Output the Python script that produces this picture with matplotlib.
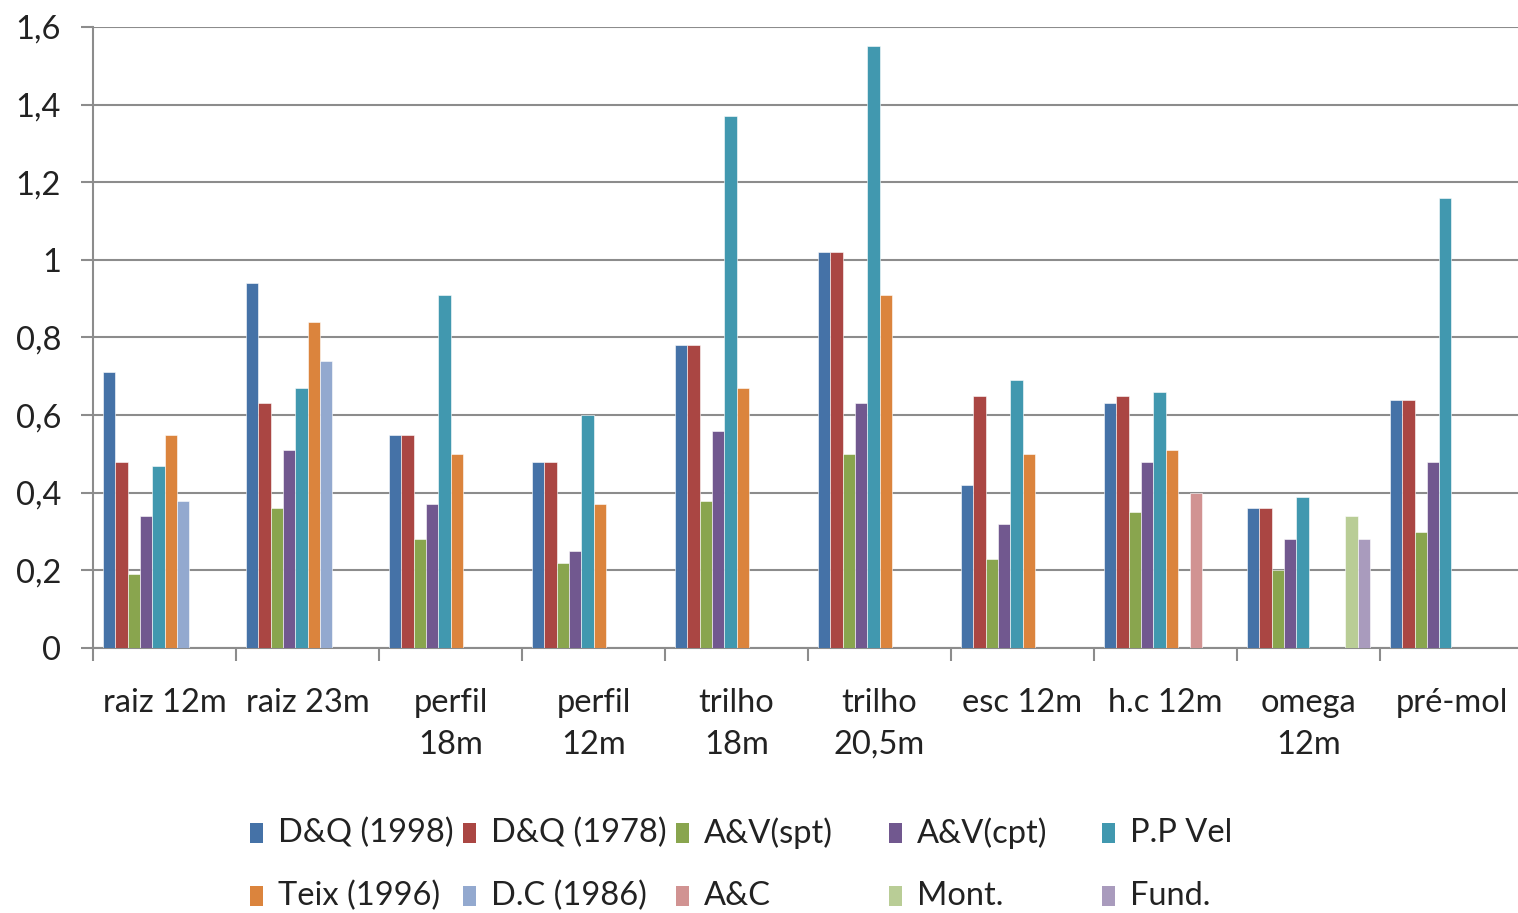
import matplotlib
matplotlib.use('Agg')
import matplotlib.pyplot as plt
from matplotlib.patches import Rectangle
import numpy as np

plt.rcParams['font.family'] = ['Lato', 'DejaVu Sans']

# categorias (eixo x)
categorias = ["raiz 12m", "raiz 23m", "perfil\n18m", "perfil\n12m", "trilho\n18m",
              "trilho\n20,5m", "esc 12m", "h.c 12m", "omega\n12m", "pré-mol"]

series = ["D&Q (1998)", "D&Q (1978)", "A&V(spt)", "A&V(cpt)", "P.P Vel",
          "Teix (1996)", "D.C (1986)", "A&C", "Mont.", "Fund."]

nan = np.nan
dq_1998 = [0.71, 0.94, 0.55, 0.48, 0.78, 1.02, 0.42, 0.63, 0.36, 0.64]
dq_1978 = [0.48, 0.63, 0.55, 0.48, 0.78, 1.02, 0.65, 0.65, 0.36, 0.64]
av_spt = [0.19, 0.36, 0.28, 0.22, 0.38, 0.50, 0.23, 0.35, 0.20, 0.30]
av_cpt = [0.34, 0.51, 0.37, 0.25, 0.56, 0.63, 0.32, 0.48, 0.28, 0.48]
pp_vel = [0.47, 0.67, 0.91, 0.60, 1.37, 1.55, 0.69, 0.66, 0.39, 1.16]
teix_1996 = [0.55, 0.84, 0.50, 0.37, 0.67, 0.91, 0.50, 0.51, nan, nan]
dc_1986 = [0.38, 0.74, nan, nan, nan, nan, nan, nan, nan, nan]
a_c = [nan, nan, nan, nan, nan, nan, nan, 0.40, nan, nan]
mont = [nan, nan, nan, nan, nan, nan, nan, nan, 0.34, nan]
fund = [nan, nan, nan, nan, nan, nan, nan, nan, 0.28, nan]

valores = [dq_1998, dq_1978, av_spt, av_cpt, pp_vel, teix_1996, dc_1986, a_c, mont, fund]

cores = ['#4572A7', '#AA4643', '#89A54E', '#71588F', '#4198AF',
         '#DB843D', '#93A9CF', '#D19392', '#B9CD96', '#A99BBD']

W, H = 1518, 913
fig = plt.figure(figsize=(W / 100, H / 100), dpi=100)
fig.patch.set_facecolor('white')
# a área do gráfico passa um pouco da borda direita (como no original)
ax = fig.add_axes([93 / W, 1 - 648 / H, (1523 - 93) / W, (648 - 27) / H])

x = np.arange(len(categorias))
largura = 0.0862
for j, (vals, cor) in enumerate(zip(valores, cores)):
    ax.bar(x + (j - 4.5) * largura, vals, largura, color=cor,
           edgecolor='white', linewidth=0.4, zorder=3)

ax.set_xlim(-0.5, len(categorias) - 0.5)
ax.set_ylim(0, 1.6)

cinza = '#8c8c8c'
fs = 23.5

# grade horizontal
yt = np.arange(0, 1.61, 0.2)
ax.set_yticks(yt)
ax.set_yticklabels([('%g' % v).replace('.', ',') for v in yt], fontsize=fs, color='#222222')
ax.yaxis.grid(True, color=cinza, linewidth=1.5, zorder=0)
ax.tick_params(axis='y', length=9, width=1.5, color=cinza, pad=14)

ax.set_xticks(x)
ax.set_xticklabels(categorias, fontsize=fs, linespacing=1.47, color='#222222')
ax.set_xticks(np.arange(-0.5, len(categorias)), minor=True)
ax.tick_params(axis='x', which='major', length=0, pad=29)
ax.tick_params(axis='x', which='minor', length=9, width=1.5, color=cinza, direction='out')

for s in ['top', 'right']:
    ax.spines[s].set_visible(False)
for s in ['left', 'bottom']:
    ax.spines[s].set_color(cinza)
    ax.spines[s].set_linewidth(1.5)

# legenda manual em grade de 5 colunas
for i, (nome, cor) in enumerate(zip(series, cores)):
    lin, col = divmod(i, 5)
    px = 250 + col * 213
    py = 833 + lin * 63
    fig.patches.append(Rectangle((px / W, 1 - (py + 10) / H), 13 / W, 20 / H,
                                 transform=fig.transFigure, facecolor=cor,
                                 edgecolor='none'))
    fig.text((px + 28) / W, 1 - py / H, nome, fontsize=fs, va='center', ha='left',
             color='#222222')

fig.savefig('out.png', dpi=100)
